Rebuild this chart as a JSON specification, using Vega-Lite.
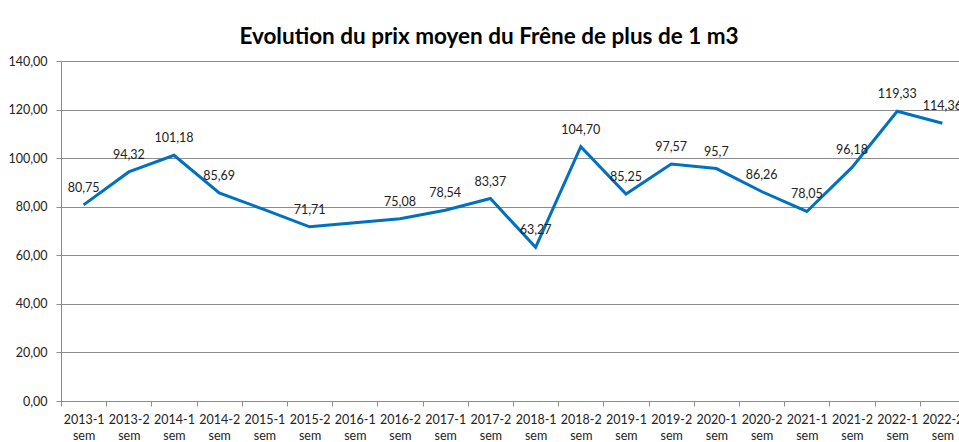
{
  "$schema": "https://vega.github.io/schema/vega-lite/v6.json",
  "width": 904,
  "height": 340,
  "autosize": {"type": "none"},
  "padding": {"left": 61, "top": 61, "right": 0, "bottom": 41},
  "background": "white",
  "title": {
    "text": "Evolution du prix moyen du Frêne de plus de 1 m3",
    "font": "Lato",
    "fontSize": 22.5,
    "fontWeight": "bold",
    "color": "#000000",
    "anchor": "middle",
    "dx": -24,
    "offset": 7
  },
  "data": {
    "values": [
      {"periode": "2013-1 sem", "prix": 80.75, "label": "80,75"},
      {"periode": "2013-2 sem", "prix": 94.32, "label": "94,32"},
      {"periode": "2014-1 sem", "prix": 101.18, "label": "101,18"},
      {"periode": "2014-2 sem", "prix": 85.69, "label": "85,69"},
      {"periode": "2015-1 sem", "prix": 78.8, "label": ""},
      {"periode": "2015-2 sem", "prix": 71.71, "label": "71,71"},
      {"periode": "2016-1 sem", "prix": 73.4, "label": ""},
      {"periode": "2016-2 sem", "prix": 75.08, "label": "75,08"},
      {"periode": "2017-1 sem", "prix": 78.54, "label": "78,54"},
      {"periode": "2017-2 sem", "prix": 83.37, "label": "83,37"},
      {"periode": "2018-1 sem", "prix": 63.27, "label": "63,27"},
      {"periode": "2018-2 sem", "prix": 104.7, "label": "104,70"},
      {"periode": "2019-1 sem", "prix": 85.25, "label": "85,25"},
      {"periode": "2019-2 sem", "prix": 97.57, "label": "97,57"},
      {"periode": "2020-1 sem", "prix": 95.7, "label": "95,7"},
      {"periode": "2020-2 sem", "prix": 86.26, "label": "86,26"},
      {"periode": "2021-1 sem", "prix": 78.05, "label": "78,05"},
      {"periode": "2021-2 sem", "prix": 96.18, "label": "96,18"},
      {"periode": "2022-1 sem", "prix": 119.33, "label": "119,33"},
      {"periode": "2022-2 sem", "prix": 114.36, "label": "114,36"}
    ]
  },
  "encoding": {
    "x": {
      "field": "periode",
      "type": "nominal",
      "sort": null,
      "scale": {"type": "band", "paddingInner": 0, "paddingOuter": 0},
      "axis": {
        "title": null,
        "labelAngle": 0,
        "labelExpr": "split(datum.label, ' ')",
        "labelFont": "Lato",
        "labelFontSize": 12.5,
        "labelColor": "#222222",
        "labelLineHeight": 16,
        "labelPadding": 7,
        "tickBand": "extent",
        "tickSize": 5,
        "tickColor": "#8c8c8c",
        "domainColor": "#8c8c8c",
        "grid": false
      }
    },
    "y": {
      "field": "prix",
      "type": "quantitative",
      "scale": {"domain": [0, 140], "nice": false, "zero": true},
      "axis": {
        "title": null,
        "values": [0, 20, 40, 60, 80, 100, 120, 140],
        "labelExpr": "replace(format(datum.value, '.2f'), '.', ',')",
        "labelFont": "Lato",
        "labelFontSize": 12.5,
        "labelColor": "#222222",
        "labelPadding": 9,
        "tickSize": 5,
        "tickColor": "#8c8c8c",
        "domainColor": "#8c8c8c",
        "grid": true,
        "gridColor": "#8c8c8c",
        "gridWidth": 1
      }
    }
  },
  "layer": [
    {
      "mark": {"type": "line", "color": "#0070C0", "strokeWidth": 3}
    },
    {
      "transform": [{"filter": "datum.label != ''"}],
      "mark": {
        "type": "text",
        "dy": -17,
        "baseline": "middle",
        "align": "center",
        "font": "Lato",
        "fontSize": 12.5,
        "color": "#222222"
      },
      "encoding": {"text": {"field": "label"}}
    }
  ],
  "config": {"view": {"stroke": null}}
}
